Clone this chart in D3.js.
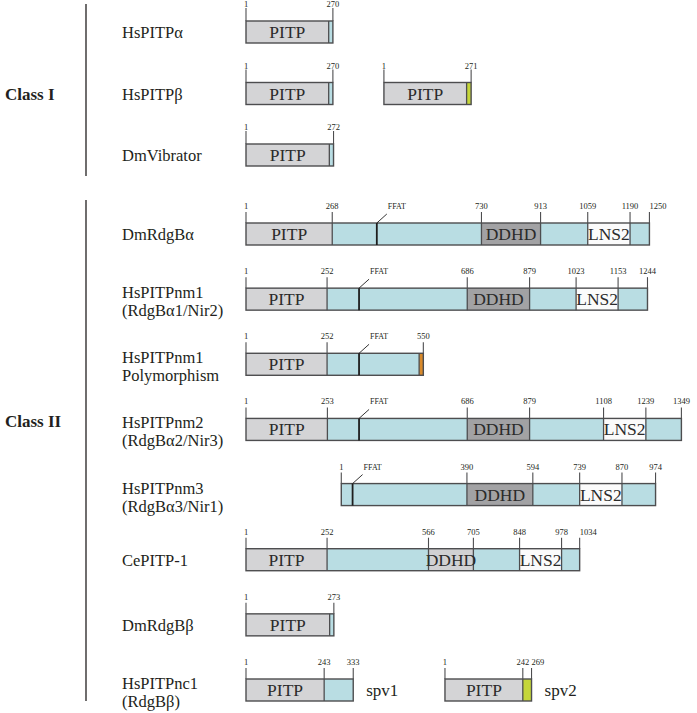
<!DOCTYPE html>
<html>
<head>
<meta charset="utf-8">
<script src="https://cdn.jsdelivr.net/npm/d3@7"></script>
<style>
  body { margin: 0; background: #fff; }
  text { font-family: "Liberation Serif", "Times New Roman", serif; fill: #231f20; }
</style>
</head>
<body>
<div id="chart"></div>
<script>
// row labels (one entry per row, lines of text)
var classOneLabels = [["HsPITPα"], ["HsPITPβ"], ["DmVibrator"]];
var classTwoLabels = [["DmRdgBα"], ["HsPITPnm1", "(RdgBα1/Nir2)"], ["HsPITPnm1", "Polymorphism"],
    ["HsPITPnm2", "(RdgBα2/Nir3)"], ["HsPITPnm3", "(RdgBα3/Nir1)"], ["CePITP-1"],
    ["DmRdgBβ"], ["HsPITPnc1", "(RdgBβ)"]];

// constructs: row index (0-2 class I, 3-10 class II), aa offset, domains, ticks, FFAT motif, tag
var constructRow = [0, 1, 1, 2, 3, 4, 5, 6, 7, 8, 9, 10, 10];
var constructOffset = [0, 0, 427, 0, 0, 0, 0, 0, 295, 0, 0, 0, 616];
var constructDomains = [
    [["PITP", 1, 257], ["linker", 257, 270]],
    [["PITP", 1, 257], ["linker", 257, 270]],
    [["PITP", 1, 257], ["green", 257, 271]],
    [["PITP", 1, 259], ["linker", 259, 272]],
    [["PITP", 1, 268], ["linker", 268, 730], ["DDHD", 730, 913], ["linker", 913, 1059], ["LNS2", 1059, 1190], ["linker", 1190, 1250]],
    [["PITP", 1, 252], ["linker", 252, 686], ["DDHD", 686, 879], ["linker", 879, 1023], ["LNS2", 1023, 1153], ["linker", 1153, 1244]],
    [["PITP", 1, 252], ["linker", 252, 537], ["orange", 537, 550]],
    [["PITP", 1, 253], ["linker", 253, 686], ["DDHD", 686, 879], ["linker", 879, 1108], ["LNS2", 1108, 1239], ["linker", 1239, 1349]],
    [["linker", 1, 390], ["DDHD", 390, 594], ["linker", 594, 739], ["LNS2", 739, 870], ["linker", 870, 974]],
    [["PITP", 1, 252], ["linker", 252, 566], ["DDHDlight", 566, 705], ["linker", 705, 848], ["LNS2", 848, 978], ["linker", 978, 1034]],
    [["PITP", 1, 260], ["linker", 260, 273]],
    [["PITP", 1, 243], ["linker", 243, 333]],
    [["PITP", 1, 242], ["green", 242, 269]]
];
var constructTicks = [
    [1, 270], [1, 270], [1, 271], [1, 272],
    [1, 268, 730, 913, 1059, 1190, 1250],
    [1, 252, 686, 879, 1023, 1153, 1244],
    [1, 252, 550],
    [1, 253, 686, 879, 1108, 1239, 1349],
    [1, 390, 594, 739, 870, 974],
    [1, 252, 566, 705, 848, 978, 1034],
    [1, 273],
    [1, 243, 333],
    [1, 242, 269]
];
var constructFfat = [null, null, null, null, 406, 351, 351, 351, 36, null, null, null, null];
var constructTag = ["", "", "", "", "", "", "", "", "", "", "", "spv1", "spv2"];

var domainColor = {
    PITP: "#d4d4d6", linker: "#b9dde3", DDHD: "#a2a2a4", DDHDlight: "#d1d1d3",
    LNS2: "#fbfbfb", green: "#c5d639", orange: "#d98a2b"
};
var labelled = { PITP: "PITP", DDHD: "DDHD", DDHDlight: "DDHD", LNS2: "LNS2" };

var width = 697, height = 713, boxH = 22;

var svg = d3.select("#chart").append("svg")
    .attr("width", width)
    .attr("height", height);

var xScale = d3.scaleLinear().domain([1, 1349]).range([246, 681.4]);

// row positions (box top) per class
var yOne = d3.scalePoint().domain(d3.range(3)).range([21, 144]);
var yTwo = d3.scalePoint().domain(d3.range(8)).range([223, 679]);
function rowTop(r) { return r < 3 ? yOne(r) : yTwo(r - 3); }

// class dividers and titles
svg.append("line").attr("x1", 86).attr("x2", 86)
    .attr("y1", yOne(0) - 17).attr("y2", yOne(2) + boxH + 10)
    .attr("stroke", "#231f20").attr("stroke-width", 1.3);
svg.append("line").attr("x1", 86).attr("x2", 86)
    .attr("y1", yTwo(0) - 23).attr("y2", yTwo(7) + boxH)
    .attr("stroke", "#231f20").attr("stroke-width", 1.3);
svg.append("text").attr("x", 5).attr("y", 100)
    .style("font-size", "17px").style("font-weight", "bold").text("Class I");
svg.append("text").attr("x", 5).attr("y", 427)
    .style("font-size", "17px").style("font-weight", "bold").text("Class II");

// protein names
var allLabels = classOneLabels.concat(classTwoLabels);
allLabels.forEach(function (lines, r) {
    var mid = rowTop(r) + boxH / 2;
    var t = svg.append("text").attr("x", 122).style("font-size", "16.5px");
    if (lines.length === 1) {
        t.attr("y", mid + 6).text(lines[0]);
    } else {
        t.attr("y", mid - 1).text(lines[0]);
        svg.append("text").attr("x", 122).attr("y", mid + 17)
            .style("font-size", "16.5px").text(lines[1]);
    }
});

// constructs
constructDomains.forEach(function (doms, i) {
    var off = constructOffset[i];
    var top = rowTop(constructRow[i]);
    var px = function (aa) { return xScale(aa + off); };
    var g = svg.append("g").attr("class", "construct");

    g.selectAll("rect.seg")
        .data(doms)
        .enter().append("rect")
        .attr("class", "seg")
        .attr("x", function (d) { return px(d[1]); })
        .attr("y", top)
        .attr("width", function (d) { return px(d[2]) - px(d[1]); })
        .attr("height", boxH)
        .attr("fill", function (d) { return domainColor[d[0]]; });

    // internal boundaries
    g.selectAll("line.bound")
        .data(doms.slice(1))
        .enter().append("line")
        .attr("x1", function (d) { return px(d[1]); })
        .attr("x2", function (d) { return px(d[1]); })
        .attr("y1", top).attr("y2", top + boxH)
        .attr("stroke", "#4d4d4f").attr("stroke-width", 1.3);

    var start = doms[0][1], end = doms[doms.length - 1][2];
    g.append("rect")
        .attr("x", px(start)).attr("y", top)
        .attr("width", px(end) - px(start)).attr("height", boxH)
        .attr("fill", "none").attr("stroke", "#4d4d4f").attr("stroke-width", 1.4);

    // domain names
    g.selectAll("text.dom")
        .data(doms.filter(function (d) { return labelled[d[0]]; }))
        .enter().append("text")
        .attr("x", function (d) { return (px(d[1]) + px(d[2])) / 2; })
        .attr("y", top + 17)
        .attr("text-anchor", "middle")
        .style("font-size", "17.5px")
        .style("fill", "#2b2b2b")
        .text(function (d) { return labelled[d[0]]; });

    // position ticks
    var ticks = constructTicks[i];
    var tickLen = constructRow[i] < 3 ? 13 : 11;
    g.selectAll("line.tick")
        .data(ticks)
        .enter().append("line")
        .attr("x1", function (d) { return px(d); })
        .attr("x2", function (d) { return px(d); })
        .attr("y1", top - tickLen).attr("y2", top)
        .attr("stroke", "#4d4d4f").attr("stroke-width", 1.1);
    g.selectAll("text.tick")
        .data(ticks)
        .enter().append("text")
        .attr("x", function (d) { return px(d); })
        .attr("y", top - 14)
        // crowded labels are pushed to the right of their tick
        .attr("text-anchor", function (d, j) {
            return j > 0 && px(d) - px(ticks[j - 1]) < 22 ? "start" : "middle";
        })
        .style("font-size", "8.5px")
        .text(function (d) { return d; });

    // FFAT motif
    if (constructFfat[i] !== null) {
        var fx = px(constructFfat[i]);
        g.append("line").attr("x1", fx).attr("x2", fx)
            .attr("y1", top).attr("y2", top + boxH)
            .attr("stroke", "#1e1e1e").attr("stroke-width", 1.8);
        g.append("line").attr("x1", fx).attr("x2", fx + 10)
            .attr("y1", top).attr("y2", top - 9)
            .attr("stroke", "#1e1e1e").attr("stroke-width", 0.9);
        g.append("text").attr("x", fx + 11).attr("y", top - 14)
            .style("font-size", "8px").text("FFAT");
    }

    if (constructTag[i]) {
        g.append("text").attr("x", px(end) + 13).attr("y", top + boxH / 2 + 6)
            .style("font-size", "17px").text(constructTag[i]);
    }
});
</script>
</body>
</html>
